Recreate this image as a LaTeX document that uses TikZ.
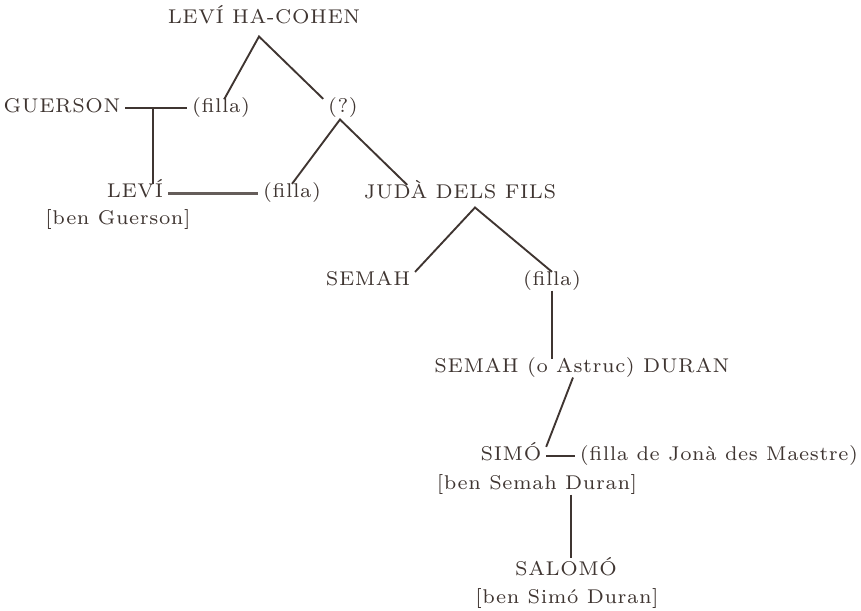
\documentclass[tikz,border=0pt]{standalone}
\usepackage{fontspec}
\setmainfont{lmroman7-regular.otf}[LetterSpace=3]
\usepackage{tikz}
\usetikzlibrary{positioning,calc}
\definecolor{ink}{HTML}{3F3531}
\tikzset{
  person/.style={text=ink, anchor=base, inner xsep=4pt, inner ysep=2pt, text height=0.9em, text depth=0.25em,
                 font=\fontsize{17}{20}\selectfont},
  tie/.style={draw=ink, line width=1.6pt},
  wed/.style={draw=ink!80, line width=2.6pt}
}

\begin{document}
\begin{tikzpicture}[x=0.03cm,y=-0.03cm]
    \useasboundingbox (0,0) rectangle (861,610);
    % generacions
    \node[person] (cohen) at (264,23) {LEVÍ HA-COHEN};
    \node[person] (guerson) at (62,112) {GUERSON};
    \node[person] (filla1) at (221,112) {(filla)};
    \node[person] (q) at (343,112) {(?)};
    \node[person] (levi) at (135,197) {LEVÍ};
    \node[person] (levibn) at (118,224) {[ben Guerson]};
    \node[person] (filla2) at (292,197) {(filla)};
    \node[person] (juda) at (460,198) {JUDÀ DELS FILS};
    \node[person] (semah) at (368,285) {SEMAH};
    \node[person] (filla3) at (552,285) {(filla)};
    \node[person] (duran) at (582,372) {SEMAH (o Astruc) DURAN};
    \node[person] (simo) at (511,460) {SIMÓ};
    \node[person] (simobn) at (537,489) {[ben Semah Duran]};
    \node[person, inner xsep=2pt] (maestre) at (719,460) {(filla de Jonà des Maestre)};
    \node[person] (salomo) at (566,575) {SALOMÓ};
    \node[person] (salomobn) at (567,603) {[ben Simó Duran]};

    % fills
    \coordinate (apex1) at ($(cohen.south)+(-5,8)$);
    \draw[tie] (filla1.70) -- (apex1) -- (q.north west);
    \coordinate (apex2) at ($(q.south)+(-3,2)$);
    \draw[tie] (filla2.north) -- (apex2) -- (juda.170);
    \coordinate (apex3) at ($(juda.south)+(15,4)$);
    \draw[tie] (semah.north east) -- (apex3) -- (filla3.north);
    \draw[tie] (filla3.south) -- (filla3.south |- duran.north);
    \draw[tie] ($(duran.south)+(-9,0)$) -- (simo.north east);
    \draw[tie, shorten >=3pt] ($(simobn.south)+(34,0)$) -- ($(salomo.north)+(5,0)$);

    % matrimonis
    \draw[tie] (guerson.east) -- (guerson.east -| filla1.west)
        coordinate[pos=.45] (m1);
    \draw[tie] (m1) -- (m1 |- levi.north);
    \draw[wed] (levi.east) -- (levi.east -| filla2.west);
    \draw[tie, shorten >=2pt] (simo.east) -- (simo.east -| maestre.west);
\end{tikzpicture}
\end{document}
